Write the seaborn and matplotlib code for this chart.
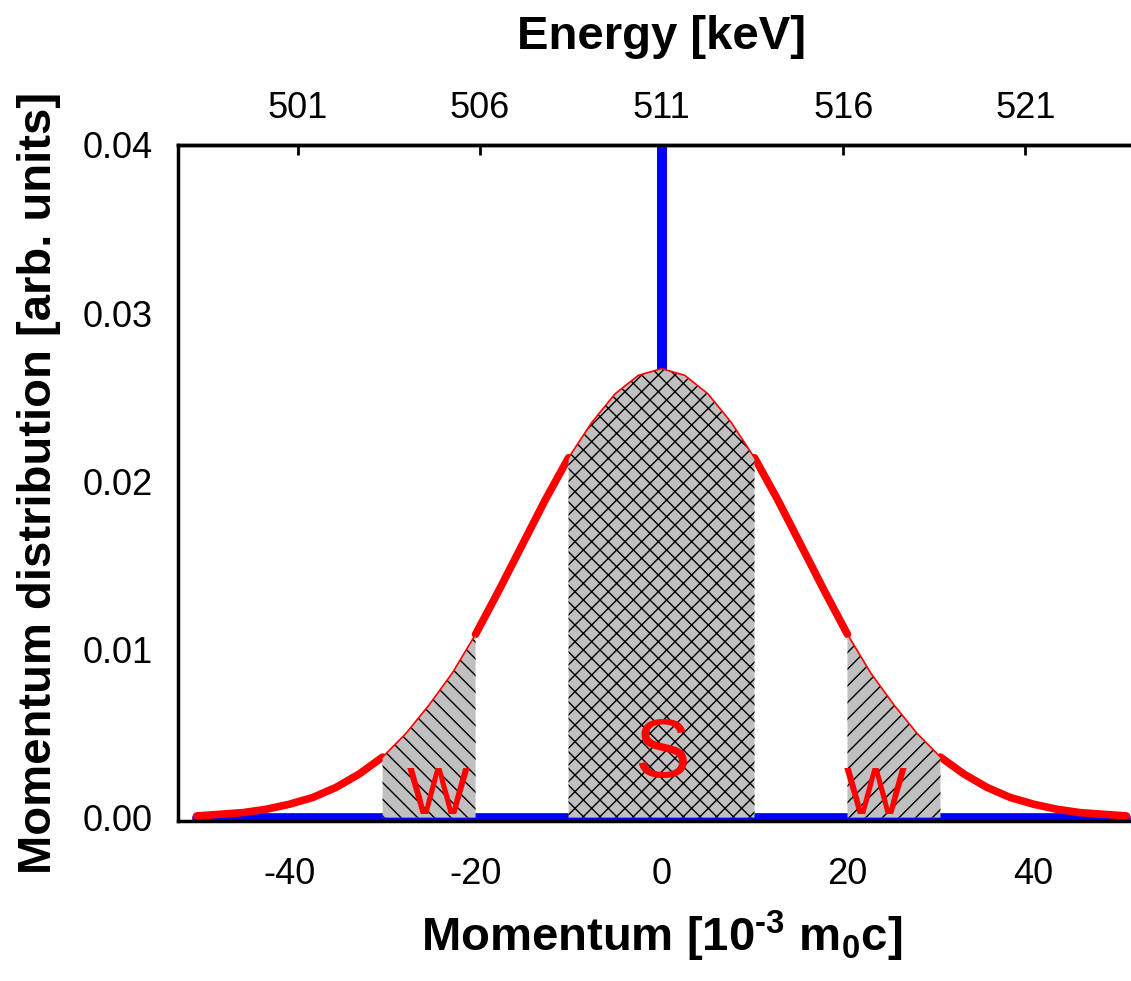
import matplotlib
matplotlib.use('Agg')
from matplotlib import pyplot as plt
import pandas as pd
import seaborn as sns

# Momentum distribution (red curve)
momentum = [-50, -47.5, -45, -42.5, -40, -37.5, -35, -32.5, -30, -27.5, -25, -22.5, -20,
            -17.5, -15, -12.5, -10, -7.5, -5, -2.5, 0, 2.5, 5, 7.5, 10, 12.5, 15, 17.5,
            20, 22.5, 25, 27.5, 30, 32.5, 35, 37.5, 40, 42.5, 45, 47.5, 50]
distribution = [0.0001, 0.0002, 0.0003, 0.0005, 0.0008, 0.0012, 0.0018, 0.0026, 0.0036,
                0.0050, 0.0067, 0.0086, 0.0109, 0.0135, 0.0162, 0.0189, 0.0214, 0.0235,
                0.0252, 0.0263, 0.0267, 0.0263, 0.0252, 0.0235, 0.0214, 0.0189, 0.0162,
                0.0135, 0.0109, 0.0086, 0.0067, 0.0050, 0.0036, 0.0026, 0.0018, 0.0012,
                0.0008, 0.0005, 0.0003, 0.0002, 0.0001]

# blue delta line (free positron peak)
delta_x = [-50, 0, 0, 0, 50]
delta_y = [0, 0, 0.05, 0, 0]

# integration windows
wing_left = (-30, -20)
core = (-10, 10)
wing_right = (20, 30)

momentum_ticks = [-40, -20, 0, 20, 40]
energy_ticks = [501, 506, 511, 516, 521]
y_ticks = [0.00, 0.01, 0.02, 0.03, 0.04]

sns.set_style('white')
plt.rcParams['font.family'] = ['Liberation Sans', 'DejaVu Sans']
plt.rcParams['mathtext.fontset'] = 'custom'
plt.rcParams['mathtext.bf'] = 'Liberation Sans:bold'
plt.rcParams['mathtext.rm'] = 'Liberation Sans:bold'
plt.rcParams['mathtext.default'] = 'bf'
plt.rcParams['axes.unicode_minus'] = False
plt.rcParams['text.color'] = 'black'
plt.rcParams['axes.labelcolor'] = 'black'
plt.rcParams['xtick.color'] = 'black'
plt.rcParams['ytick.color'] = 'black'

df = pd.DataFrame({'Momentum': momentum, 'Distribution': distribution})
df_delta = pd.DataFrame({'x': delta_x, 'y': delta_y})

# thick red curve only outside the shaded windows
def segment(p):
    windows = [wing_left, core, wing_right]
    for a, b in windows:
        if a < p < b:
            return None
    return sum(p >= b for a, b in windows)

df_out = df.copy()
df_out['seg'] = df_out['Momentum'].apply(segment)
df_out = df_out.dropna()

fig = plt.figure(figsize=(11.31, 9.81), dpi=100)
ax = fig.add_axes([0.1574, 0.1631, 0.855, 0.6891])

sns.lineplot(data=df_delta, x='x', y='y', ax=ax, color='#0000ff', lw=7,
             sort=False, estimator=None, zorder=1)
sns.lineplot(data=df_out, x='Momentum', y='Distribution', units='seg', estimator=None,
             ax=ax, color='#ff0000', lw=5.5, zorder=2, solid_joinstyle='round')

for (a, b), hatch in [(wing_left, '\\\\'), (core, 'xx'), (wing_right, '//')]:
    sel = df[(df['Momentum'] >= a) & (df['Momentum'] <= b)]
    ax.fill_between(sel['Momentum'], 0, sel['Distribution'], facecolor='#c0c0c0',
                    edgecolor='black', hatch=hatch, lw=0, zorder=3)

sns.lineplot(data=df, x='Momentum', y='Distribution', ax=ax, color='#ff0000', lw=1.2, zorder=4)

ax.text(0, 0.0037, 'S', color='#ff0000', fontsize=60, ha='center', va='center', zorder=5)
ax.text(-24, 0.0012, 'W', color='#ff0000', fontsize=48, ha='center', va='center', zorder=5)
ax.text(23, 0.0012, 'W', color='#ff0000', fontsize=48, ha='center', va='center', zorder=5)

ax.set_xlim(-52, 52)
ax.set_ylim(-0.0002, 0.04)
ax.set_xticks(momentum_ticks)
ax.set_xticklabels([str(t) for t in momentum_ticks])
ax.set_yticks(y_ticks)
ax.set_yticklabels([f'{t:.2f}' for t in y_ticks])
ax.tick_params(axis='x', direction='in', length=7, width=2, labelsize=26, pad=26, top=False)
ax.tick_params(axis='y', direction='in', length=7, width=2, labelsize=26, pad=18)
for s in ax.spines.values():
    s.set_linewidth(2.5)
    s.set_color('black')

ax.set_xlabel(r'Momentum [10$^{\text{-3}}$ m$_0$c]', fontsize=34, fontweight='bold', labelpad=12)
ax.set_ylabel('Momentum distribution [arb. units]', fontsize=34, fontweight='bold', labelpad=16)

sec = ax.secondary_xaxis('top', functions=(lambda p: 511 + 0.2555 * p,
                                           lambda e: (e - 511) / 0.2555))
sec.set_xticks(energy_ticks)
sec.tick_params(direction='in', length=7, width=2, labelsize=26, pad=14)
sec.spines['top'].set_linewidth(2.5)
sec.set_xlabel('Energy [keV]', fontsize=34, fontweight='bold', labelpad=30)

fig.savefig('out.png', dpi=100)
